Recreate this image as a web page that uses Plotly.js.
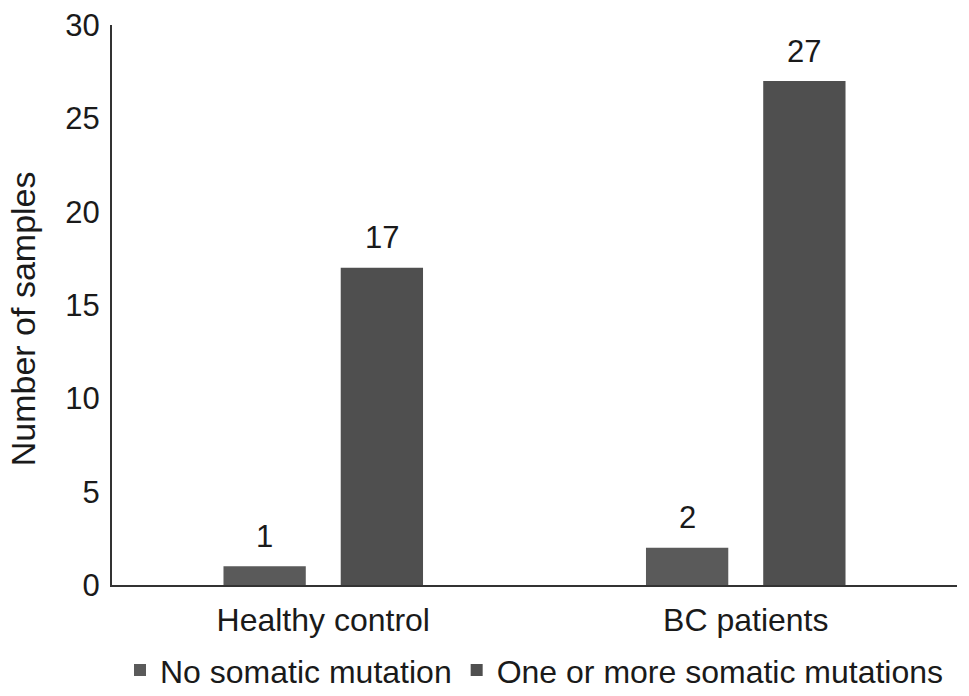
<!DOCTYPE html>
<html>
<head>
<meta charset="utf-8">
<script src="https://cdn.plot.ly/plotly-3.0.1.min.js"></script>
<style>html,body{margin:0;padding:0;background:#fff;}#chart{width:969px;height:696px;}</style>
</head>
<body>
<div id="chart"></div>
<script>
var categories = ["Healthy control", "BC patients"];
var seriesNames = ["No somatic mutation", "One or more somatic mutations"];
var noMutation = [1, 2];
var oneOrMore = [17, 27];
var yTicks = [0, 5, 10, 15, 20, 25, 30];
var yTitle = "Number of samples";

var colors = ["#5a5a5a", "#4f4f4f"];
var FONT = "Liberation Sans, Arial, Helvetica, sans-serif";
var bargap = 0.445;
var seriesValues = [noMutation, oneOrMore];

var traces = seriesValues.map(function (vals, i) {
  return {
    type: "bar",
    name: seriesNames[i],
    x: categories,
    y: vals,
    marker: {color: colors[i]},
    hoverinfo: "x+y"
  };
});

var slot = (1 - bargap) / 2;
var annotations = [];
seriesValues.forEach(function (vals, i) {
  vals.forEach(function (v, j) {
    annotations.push({
      x: j + (i - 0.5) * slot,
      y: v,
      xref: "x",
      yref: "y",
      text: String(v),
      showarrow: false,
      yanchor: "middle",
      yshift: 30,
      font: {family: FONT, size: 31, color: "#1a1a1a"}
    });
  });
});
annotations.push({
  xref: "paper", yref: "paper",
  x: -0.105, y: 0.475,
  xanchor: "center", yanchor: "middle",
  textangle: -90,
  showarrow: false,
  text: yTitle,
  font: {family: FONT, size: 34, color: "#1a1a1a"}
});

var layout = {
  width: 969,
  height: 696,
  margin: {l: 112, r: 12, t: 25, b: 111},
  paper_bgcolor: "#ffffff",
  plot_bgcolor: "#ffffff",
  barmode: "group",
  bargap: bargap,
  bargroupgap: 0.298,
  font: {family: FONT, color: "#1a1a1a"},
  xaxis: {
    type: "category",
    range: [-0.5, 1.5],
    automargin: false,
    showline: true,
    linecolor: "#333333",
    linewidth: 2,
    ticks: "",
    showgrid: false,
    zeroline: false,
    ticklabelstandoff: 6,
    tickfont: {family: FONT, size: 32, color: "#1a1a1a"}
  },
  yaxis: {
    range: [0, 30],
    automargin: false,
    tickvals: yTicks,
    ticktext: yTicks.map(String),
    showline: true,
    linecolor: "#333333",
    linewidth: 2,
    ticks: "",
    showgrid: false,
    zeroline: false,
    ticklabelstandoff: 4,
    tickfont: {family: FONT, size: 31, color: "#1a1a1a"}
  },
  showlegend: true,
  legend: {
    orientation: "h",
    xref: "paper",
    x: 0.5,
    xanchor: "center",
    yref: "container",
    y: 0.037,
    yanchor: "middle",
    font: {family: FONT, size: 32, color: "#1a1a1a"},
    itemwidth: 30,
    tracegroupgap: 0,
    bgcolor: "rgba(0,0,0,0)"
  },
  annotations: annotations
};

Plotly.newPlot("chart", traces, layout, {displayModeBar: false, staticPlot: true});
</script>
</body>
</html>
